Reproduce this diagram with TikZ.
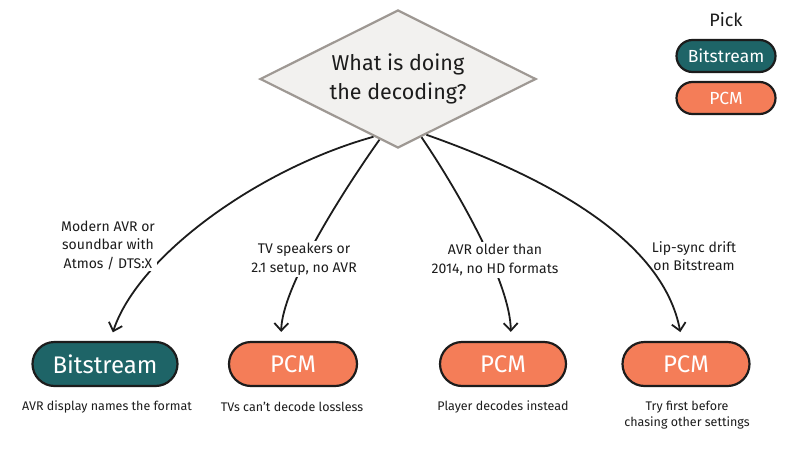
\documentclass[tikz,border=0pt]{standalone}
\usepackage{fontspec}
\setmainfont{Fira Sans}
\usetikzlibrary{arrows.meta,shapes.geometric}
\definecolor{teal}{HTML}{1E6467}
\definecolor{orng}{HTML}{F47D58}
\definecolor{dfill}{HTML}{F2F1EF}
\definecolor{dline}{HTML}{9E9893}
\definecolor{ink}{HTML}{1C1C1C}
\tikzset{
  pill/.style={draw=ink, line width=2.2pt, rounded corners=#1, text=white, align=center, inner sep=0pt},
  bigpill/.style={pill=22pt, minimum height=44pt, font=\fontsize{24}{26}\selectfont},
  smallpill/.style={pill=16pt, minimum height=32pt, minimum width=99pt, font=\fontsize{17.5}{20}\selectfont},
  edgelbl/.style={fill=white, align=center, inner sep=2pt, text=ink, font=\fontsize{14}{18.5}\selectfont},
  caption/.style={align=center, text=ink, font=\fontsize{12.5}{16}\selectfont},
  conn/.style={draw=ink, line width=1.8pt, -{Straight Barb[length=7.5pt,width=14pt,line width=1.8pt]}, shorten >=9pt}
}
\begin{document}
\begin{tikzpicture}[x=1pt,y=-1pt]
\fill[white] (0,0) rectangle (800,450);
\useasboundingbox (0,0) rectangle (800,450);
% decision diamond
\node[diamond, aspect=2, minimum width=276pt, minimum height=138pt, inner sep=0pt,
      fill=dfill, draw=dline, line width=2.2pt, align=center, text=ink,
      font=\fontsize{21.5}{29}\selectfont] (d) at (398,79) {What is doing\\the decoding?};
% legend
\node[text=ink, font=\fontsize{18}{20}\selectfont] (pick) at (726,20) {Pick};
\node[smallpill, fill=teal] (lb) at (726,56) {Bitstream};
\node[smallpill, fill=orng] (lp) at (726,98) {PCM};
% outcome pills
\node[bigpill, fill=teal, minimum width=145pt] (b1) at (105,364) {Bitstream};
\node[bigpill, fill=orng, minimum width=128pt] (b2) at (293,364) {PCM};
\node[bigpill, fill=orng, minimum width=126pt] (b3) at (503,364) {PCM};
\node[bigpill, fill=orng, minimum width=127pt] (b4) at (686,364) {PCM};
% captions
\node[caption] (c1) at (107,407) {AVR display names the format};
\node[caption] (c2) at (292,407) {TVs can't decode lossless};
\node[caption] (c3) at (503,407) {Player decodes instead};
\node[caption, anchor=north] (c4) at (687,398) {Try first before\\chasing other settings};
% connectors
\draw[conn] (d.247) .. controls +(-115,32) and +(28,-85) .. ([xshift=5pt]b1.north);
\draw[conn] (d.253) .. controls +(-39,55) and +(1,-53) .. ([xshift=-12pt]b2.north);
\draw[conn] (d.292) .. controls +(38,56) and +(-1,-58) .. ([xshift=8pt]b3.north);
\draw[conn] (d.297) .. controls +(136,48) and +(-18,-95) .. ([xshift=-4pt]b4.north);
% edge labels
\node[edgelbl] (l1) at (108,245) {Modern AVR or\\soundbar with\\Atmos / DTS:X};
\node[edgelbl] (l2) at (304,259) {TV speakers or\\2.1 setup, no AVR};
\node[edgelbl] (l3) at (495,260) {AVR older than\\2014, no HD formats};
\node[edgelbl, fill=none] (l4) at (694,256) {Lip-sync drift\\on Bitstream};
\end{tikzpicture}
\end{document}
